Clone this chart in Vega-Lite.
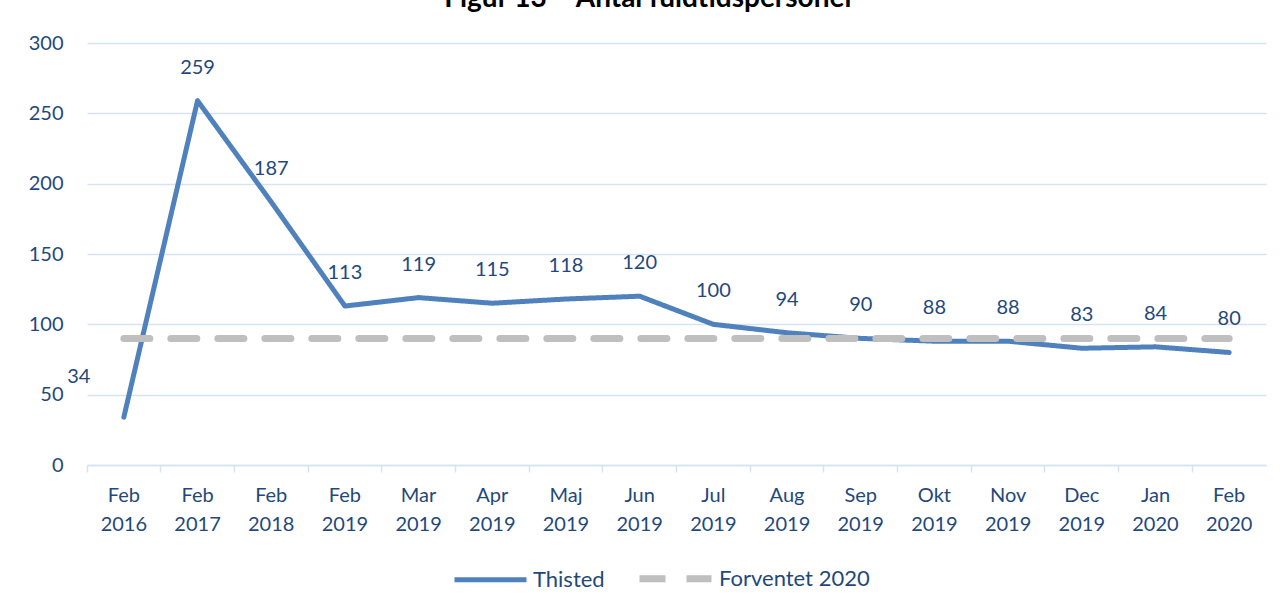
{
  "$schema": "https://vega.github.io/schema/vega-lite/v6.json",
  "autosize": {"type": "none"},
  "width": 1179,
  "height": 422,
  "padding": {"left": 87, "top": 43, "right": 17, "bottom": 145},
  "background": "white",
  "title": {
    "text": "Figur 13 – Antal fuldtidspersoner",
    "font": "Lato",
    "fontSize": 28,
    "fontWeight": "bold",
    "color": "#000000",
    "anchor": "middle",
    "offset": 20,
    "dx": -27
  },
  "config": {
    "font": "Lato",
    "view": {"stroke": null},
    "axis": {
      "labelFont": "Lato",
      "labelFontSize": 20,
      "labelColor": "#1F497D",
      "gridColor": "#D6E3F3",
      "gridWidth": 1.5,
      "domainColor": "#D6E3F3",
      "domainWidth": 1.5,
      "tickColor": "#D6E3F3",
      "tickWidth": 1.5,
      "title": null
    }
  },
  "data": {
    "values": [
      {"label": "Feb 2016", "series": "Thisted", "value": 34},
      {"label": "Feb 2017", "series": "Thisted", "value": 259},
      {"label": "Feb 2018", "series": "Thisted", "value": 187},
      {"label": "Feb 2019", "series": "Thisted", "value": 113},
      {"label": "Mar 2019", "series": "Thisted", "value": 119},
      {"label": "Apr 2019", "series": "Thisted", "value": 115},
      {"label": "Maj 2019", "series": "Thisted", "value": 118},
      {"label": "Jun 2019", "series": "Thisted", "value": 120},
      {"label": "Jul 2019", "series": "Thisted", "value": 100},
      {"label": "Aug 2019", "series": "Thisted", "value": 94},
      {"label": "Sep 2019", "series": "Thisted", "value": 90},
      {"label": "Okt 2019", "series": "Thisted", "value": 88},
      {"label": "Nov 2019", "series": "Thisted", "value": 88},
      {"label": "Dec 2019", "series": "Thisted", "value": 83},
      {"label": "Jan 2020", "series": "Thisted", "value": 84},
      {"label": "Feb 2020", "series": "Thisted", "value": 80},
      {"label": "Feb 2016", "series": "Forventet 2020", "value": 90},
      {"label": "Feb 2017", "series": "Forventet 2020", "value": 90},
      {"label": "Feb 2018", "series": "Forventet 2020", "value": 90},
      {"label": "Feb 2019", "series": "Forventet 2020", "value": 90},
      {"label": "Mar 2019", "series": "Forventet 2020", "value": 90},
      {"label": "Apr 2019", "series": "Forventet 2020", "value": 90},
      {"label": "Maj 2019", "series": "Forventet 2020", "value": 90},
      {"label": "Jun 2019", "series": "Forventet 2020", "value": 90},
      {"label": "Jul 2019", "series": "Forventet 2020", "value": 90},
      {"label": "Aug 2019", "series": "Forventet 2020", "value": 90},
      {"label": "Sep 2019", "series": "Forventet 2020", "value": 90},
      {"label": "Okt 2019", "series": "Forventet 2020", "value": 90},
      {"label": "Nov 2019", "series": "Forventet 2020", "value": 90},
      {"label": "Dec 2019", "series": "Forventet 2020", "value": 90},
      {"label": "Jan 2020", "series": "Forventet 2020", "value": 90},
      {"label": "Feb 2020", "series": "Forventet 2020", "value": 90}
    ]
  },
  "encoding": {
    "x": {
      "field": "label",
      "type": "ordinal",
      "sort": null,
      "scale": {"type": "band", "paddingInner": 0, "paddingOuter": 0},
      "axis": {
        "labelAngle": 0,
        "labelExpr": "split(datum.label, ' ')",
        "labelLineHeight": 29,
        "labelPadding": 13,
        "labelBaseline": "top",
        "tickSize": 7,
        "bandPosition": 0,
        "grid": false
      }
    },
    "y": {
      "field": "value",
      "type": "quantitative",
      "scale": {"domain": [0, 300]},
      "axis": {
        "values": [0, 50, 100, 150, 200, 250, 300],
        "tickSize": 0,
        "labelPadding": 24,
        "domain": false,
        "grid": true
      }
    }
  },
  "layer": [
    {
      "mark": {"type": "line", "strokeCap": "round", "strokeJoin": "round"},
      "encoding": {
        "color": {
          "field": "series",
          "type": "nominal",
          "scale": {"domain": ["Thisted", "Forventet 2020"], "range": ["#4F81BD", "#BFBFBF"]},
          "legend": {
            "title": null,
            "orient": "none",
            "legendX": 365,
            "legendY": 496,
            "direction": "horizontal",
            "symbolType": "stroke",
            "symbolSize": 5184,
            "symbolStrokeWidth": 6,
            "labelFont": "Lato",
            "labelFontSize": 22,
            "labelColor": "#1F497D",
            "labelOffset": 4,
            "columnPadding": 20
          }
        },
        "strokeDash": {
          "field": "series",
          "type": "nominal",
          "scale": {"domain": ["Thisted", "Forventet 2020"], "range": [[1, 0], [26, 21]]},
          "legend": {
            "title": null,
            "orient": "none",
            "legendX": 365,
            "legendY": 496,
            "direction": "horizontal",
            "symbolType": "stroke",
            "symbolSize": 5184,
            "symbolStrokeWidth": 6,
            "labelFont": "Lato",
            "labelFontSize": 22,
            "labelColor": "#1F497D",
            "labelOffset": 4,
            "columnPadding": 20
          }
        },
        "strokeWidth": {
          "field": "series",
          "type": "nominal",
          "scale": {"domain": ["Thisted", "Forventet 2020"], "range": [5, 7]},
          "legend": null
        },
        "order": {"field": "series", "sort": "ascending"}
      }
    },
    {
      "transform": [{"filter": "datum.series === 'Thisted' && datum.label !== 'Feb 2016'"}],
      "mark": {"type": "text", "dy": -33, "font": "Lato", "fontSize": 20, "color": "#1F497D", "baseline": "middle"},
      "encoding": {"text": {"field": "value", "type": "quantitative"}}
    },
    {
      "transform": [{"filter": "datum.series === 'Thisted' && datum.label === 'Feb 2016'"}],
      "mark": {"type": "text", "dx": -45, "dy": -40, "font": "Lato", "fontSize": 20, "color": "#1F497D", "baseline": "middle"},
      "encoding": {"text": {"field": "value", "type": "quantitative"}}
    }
  ]
}
